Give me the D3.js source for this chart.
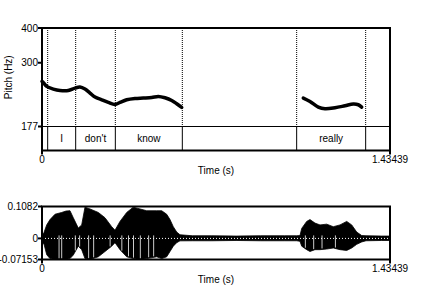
<!DOCTYPE html>
<html>
<head>
<meta charset="utf-8">
<script src="https://cdn.jsdelivr.net/npm/d3@7"></script>
<style>
  body { margin: 0; background: #fff; }
  text { font-family: "Liberation Sans", Arial, sans-serif; font-size: 10px; fill: #000; }
</style>
</head>
<body>
<svg id="chart" width="432" height="288"></svg>
<script>
var width = 432, height = 288;
var tMax = 1.43439;

// pitch contour (s, Hz), two voiced stretches
var pitchTimes1 = [0, 0.0054, 0.0194, 0.0466, 0.0742, 0.1084, 0.136, 0.1566, 0.1772, 0.1978, 0.2185, 0.2461, 0.2733, 0.3009, 0.3215, 0.3491, 0.3833, 0.4175, 0.4522, 0.4794, 0.507, 0.5346, 0.5552, 0.5758];
var pitchHz1    = [257, 254.9, 246.6, 241.3, 238.5, 238.5, 243.3, 245.4, 241.3, 233.5, 225.8, 220.8, 216, 212.4, 216, 220.8, 223.2, 224, 225, 227, 224.5, 219.6, 213.6, 207.2];
var pitchTimes2 = [1.077, 1.1046, 1.1389, 1.1665, 1.2077, 1.2489, 1.2831, 1.3037, 1.3177];
var pitchHz2    = [224, 217.8, 207.9, 205, 206.7, 210.1, 213.1, 211.9, 207.9];

var pitchTicks = [177, 300, 400];

// text tier
var boundaries = [0.0234, 0.1388, 0.3023, 0.5784, 1.0497, 1.3341];
var words = ["", "I", "don't", "know", "", "really", ""];

// waveform envelope (s, max, min)
var waveTimes = [0, 0.0082, 0.0194, 0.033, 0.0536, 0.0812, 0.0989, 0.1154, 0.129, 0.1496, 0.1636, 0.1772, 0.1978, 0.2321, 0.2597, 0.2873, 0.3009, 0.3215, 0.3491, 0.3763, 0.4039, 0.4316, 0.4728, 0.4934, 0.514, 0.5276, 0.5412, 0.5552, 0.5688, 0.62, 0.7, 0.8, 0.9, 1.0, 1.05, 1.0634, 1.0704, 1.091, 1.1046, 1.1252, 1.1459, 1.1735, 1.2007, 1.2283, 1.2559, 1.2765, 1.2971, 1.3177, 1.3355, 1.4, 1.43439];
var waveMax   = [0.0097, 0.02, 0.0458, 0.0638, 0.0819, 0.088, 0.0927, 0.0938, 0.07, 0.035, 0.0458, 0.106, 0.0999, 0.088, 0.07, 0.0397, 0.0278, 0.0577, 0.088, 0.106, 0.0999, 0.0938, 0.0938, 0.0938, 0.0819, 0.0638, 0.0397, 0.0216, 0.0123, 0.009, 0.009, 0.008, 0.009, 0.009, 0.009, 0.0097, 0.0339, 0.0577, 0.0638, 0.0519, 0.0458, 0.0483, 0.0397, 0.0458, 0.0577, 0.0458, 0.0216, 0.0097, 0.009, 0.008, 0.008];
var waveMin   = [-0.0144, -0.019, -0.0552, -0.0685, -0.0715, -0.0715, -0.0715, -0.0685, -0.0563, -0.0263, -0.0382, -0.0685, -0.0715, -0.0624, -0.0444, -0.0263, -0.0144, -0.0382, -0.0624, -0.0685, -0.0715, -0.0685, -0.0624, -0.0685, -0.0624, -0.0444, -0.0263, -0.0144, -0.0083, -0.008, -0.008, -0.007, -0.008, -0.008, -0.008, -0.01, -0.0263, -0.0382, -0.0444, -0.0382, -0.0382, -0.036, -0.0325, -0.0382, -0.0408, -0.0325, -0.0202, -0.012, -0.008, -0.007, -0.007];
// light streaks where glottal pulses show through (s)
var pulseTimes = [0.0703, 0.0812, 0.1373, 0.1551, 0.1922, 0.2129, 0.2808, 0.3291, 0.3566, 0.3772, 0.4053, 0.4395, 0.4602, 1.0855, 1.1198, 1.1542, 1.2094];
var waveTicks = [-0.07153, 0, 0.1082];
var waveTickLabels = ["-0.07153", "0", "0.1082"];

var svg = d3.select("#chart");

var x = d3.scaleLinear().domain([0, tMax]).range([42, 390]);
var yPitch = d3.scaleLog().domain([177, 400]).range([126.5, 28]);
var tierBottom = 150.5;
var yWave = d3.scaleLinear().domain([-0.07153, 0.1082]).range([259.5, 206.5]);

// ---- pitch panel ----
var pitchG = svg.append("g");

// dotted boundaries in the pitch area
pitchG.selectAll("line.dot")
  .data(boundaries)
  .enter().append("line")
  .attr("x1", d => x(d)).attr("x2", d => x(d))
  .attr("y1", yPitch(400)).attr("y2", yPitch(177))
  .style("stroke", "#000")
  .style("stroke-width", 1)
  .style("stroke-dasharray", "1,1");

// tier boundaries
pitchG.selectAll("line.tier")
  .data(boundaries)
  .enter().append("line")
  .attr("x1", d => x(d)).attr("x2", d => x(d))
  .attr("y1", yPitch(177)).attr("y2", tierBottom)
  .style("stroke", "#000")
  .style("stroke-width", 1);

pitchG.append("line")
  .attr("x1", x(0)).attr("x2", x(tMax))
  .attr("y1", yPitch(177)).attr("y2", yPitch(177))
  .style("stroke", "#000").style("stroke-width", 1);

var edges = [0].concat(boundaries, [tMax]);
pitchG.selectAll("text.word")
  .data(words)
  .enter().append("text")
  .attr("x", (d, i) => x((edges[i] + edges[i + 1]) / 2))
  .attr("y", (yPitch(177) + tierBottom) / 2)
  .attr("dy", "0.35em")
  .attr("text-anchor", "middle")
  .text(d => d);

var pitchLine = d3.line()
  .x(d => x(d[0]))
  .y(d => yPitch(d[1]))
  .curve(d3.curveCatmullRom);

[[pitchTimes1, pitchHz1], [pitchTimes2, pitchHz2]].forEach(function(s) {
  pitchG.append("path")
    .datum(d3.zip(s[0], s[1]))
    .attr("d", pitchLine)
    .style("fill", "none")
    .style("stroke", "#000")
    .style("stroke-width", 3.5)
    .style("stroke-linecap", "round")
    .style("stroke-linejoin", "round");
});

pitchG.append("rect")
  .attr("x", x(0)).attr("y", yPitch(400))
  .attr("width", x(tMax) - x(0))
  .attr("height", tierBottom - yPitch(400))
  .style("fill", "none").style("stroke", "#000").style("stroke-width", 2);

pitchG.selectAll("line.ytick")
  .data(pitchTicks)
  .enter().append("line")
  .attr("x1", x(0) - 4).attr("x2", x(0))
  .attr("y1", d => yPitch(d)).attr("y2", d => yPitch(d))
  .style("stroke", "#000").style("stroke-width", 2);

pitchG.selectAll("text.ytick")
  .data(pitchTicks)
  .enter().append("text")
  .attr("x", x(0) - 4)
  .attr("y", d => yPitch(d))
  .attr("dy", "0.35em")
  .attr("text-anchor", "end")
  .text(d => d);

pitchG.append("text")
  .attr("transform", "translate(12," + (yPitch(400) + yPitch(177)) / 2 + ") rotate(-90)")
  .attr("text-anchor", "middle")
  .text("Pitch (Hz)");

function timeAxis(g, yBase) {
  g.selectAll("line.xtick")
    .data([0, tMax])
    .enter().append("line")
    .attr("x1", d => x(d)).attr("x2", d => x(d))
    .attr("y1", yBase).attr("y2", yBase + 4)
    .style("stroke", "#000").style("stroke-width", 2);
  g.selectAll("text.xtick")
    .data([0, tMax])
    .enter().append("text")
    .attr("x", d => x(d))
    .attr("y", yBase + 12)
    .attr("text-anchor", "middle")
    .text(d => d === 0 ? "0" : "1.43439");
  g.append("text")
    .attr("x", (x(0) + x(tMax)) / 2)
    .attr("y", yBase + 23)
    .attr("text-anchor", "middle")
    .text("Time (s)");
}
timeAxis(pitchG, tierBottom);

// ---- waveform panel ----
var waveG = svg.append("g");

var waveArea = d3.area()
  .x(d => x(d[0]))
  .y0(d => yWave(d[2]))
  .y1(d => yWave(d[1]));

waveG.append("path")
  .datum(d3.zip(waveTimes, waveMax, waveMin))
  .attr("d", waveArea)
  .style("fill", "#000")
  .style("stroke", "#000")
  .style("stroke-width", 0.8);

var minAt = d3.scaleLinear().domain(waveTimes).range(waveMin);
waveG.selectAll("line.pulse")
  .data(pulseTimes)
  .enter().append("line")
  .attr("x1", d => x(d)).attr("x2", d => x(d))
  .attr("y1", yWave(0) - 3)
  .attr("y2", d => yWave(minAt(d)) - 1)
  .style("stroke", "#fff")
  .style("stroke-width", 0.8);

waveG.append("line")
  .attr("x1", x(0)).attr("x2", x(tMax))
  .attr("y1", yWave(0)).attr("y2", yWave(0))
  .style("stroke", "#fff").style("stroke-width", 1)
  .style("stroke-dasharray", "1,2");

waveG.append("rect")
  .attr("x", x(0)).attr("y", yWave(0.1082))
  .attr("width", x(tMax) - x(0))
  .attr("height", yWave(-0.07153) - yWave(0.1082))
  .style("fill", "none").style("stroke", "#000").style("stroke-width", 2);

waveG.selectAll("line.ytick")
  .data(waveTicks)
  .enter().append("line")
  .attr("x1", x(0) - 4).attr("x2", x(0))
  .attr("y1", d => yWave(d)).attr("y2", d => yWave(d))
  .style("stroke", "#000").style("stroke-width", 2);

waveG.selectAll("text.ytick")
  .data(waveTicks)
  .enter().append("text")
  .attr("x", x(0) - 4)
  .attr("y", d => yWave(d))
  .attr("dy", "0.35em")
  .attr("text-anchor", "end")
  .text((d, i) => waveTickLabels[i]);

timeAxis(waveG, yWave(-0.07153));
</script>
</body>
</html>
